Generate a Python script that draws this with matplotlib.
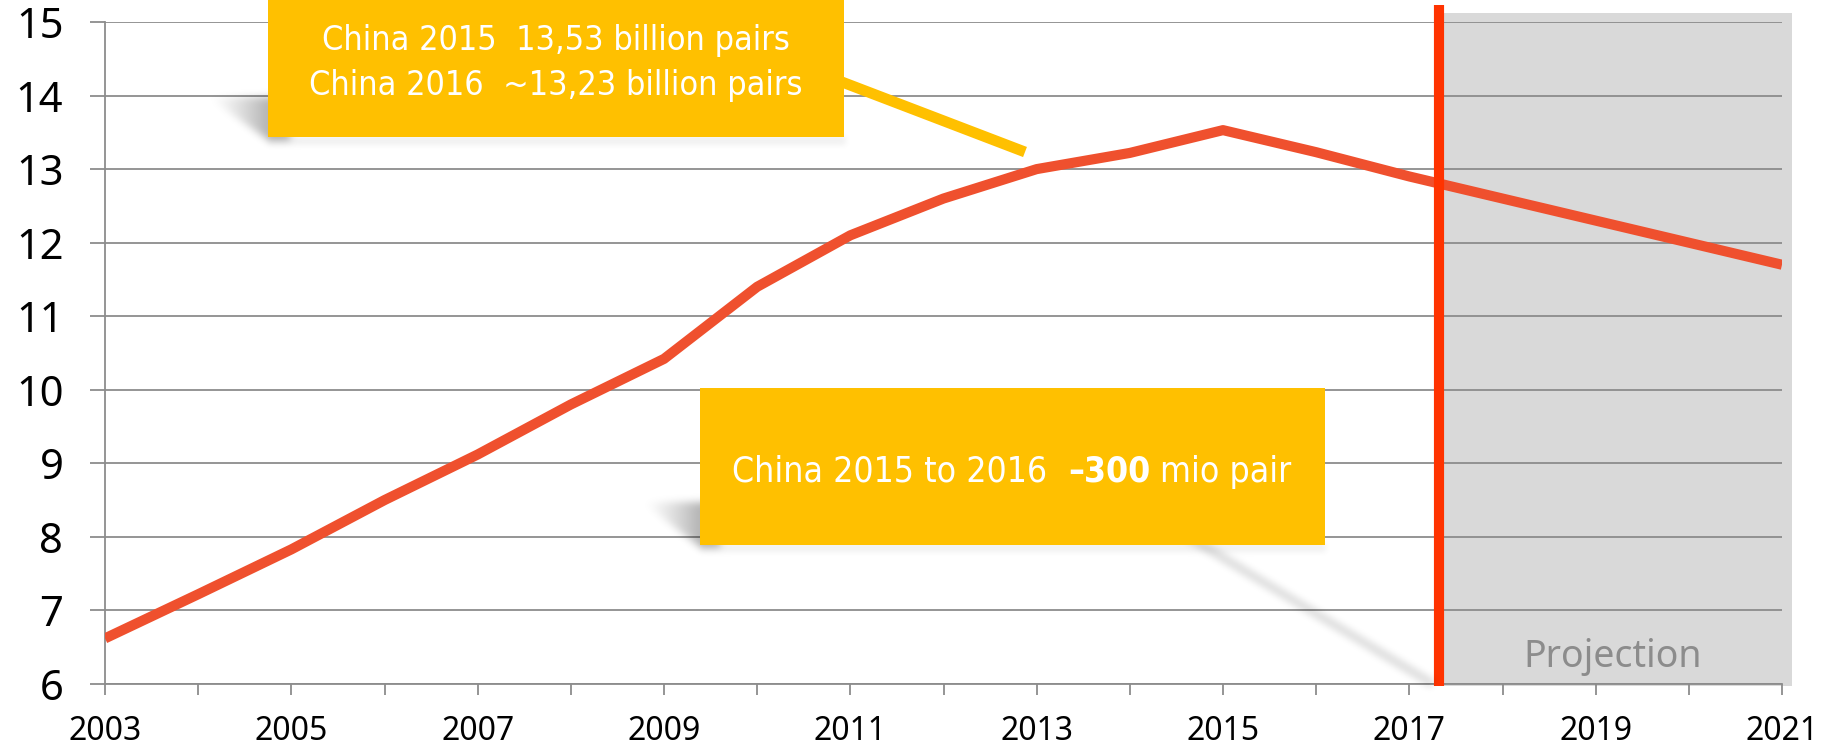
import numpy as np
import matplotlib
matplotlib.use("Agg")
import matplotlib.pyplot as plt
from matplotlib import font_manager
from matplotlib.patches import Rectangle
from matplotlib.lines import Line2D
from matplotlib.path import Path

# ---------------- data ----------------
years = list(range(2003, 2022))
pairs = [6.62, 7.22, 7.83, 8.50, 9.12, 9.80, 10.42, 11.40, 12.10, 12.60,
         13.00, 13.22, 13.53, 13.23, 12.90, 12.60, 12.30, 12.00, 11.70]
projection_start = 2017.32
y_ticks = list(range(6, 16))
x_label_years = list(range(2003, 2022, 2))
box1_lines = ["China 2015  13,53 billion pairs", "China 2016  ~13,23 billion pairs"]
box2_parts = ["China 2015 to 2016", "–300", "mio pair"]
projection_label = "Projection"

# ---------------- fonts ----------------
ttf = font_manager.fontManager.ttflist
names = {f.name for f in ttf}
if any(f.name == "DejaVu Sans" and "condensed" in str(f.stretch) for f in ttf):
    narrow_kw = dict(family="DejaVu Sans", stretch="condensed")
    nscale = 1.0
elif "Liberation Sans Narrow" in names:
    narrow_kw = dict(family="Liberation Sans Narrow")
    nscale = 1.12
else:
    narrow_kw = dict(family="Roboto")
    nscale = 0.85
tick_font = "Noto Sans" if "Noto Sans" in names else ("Open Sans" if "Open Sans" in names else "DejaVu Sans")

W, H = 1829, 746
fig = plt.figure(figsize=(W / 100, H / 100), dpi=100)
fig.patch.set_facecolor("white")

def fx(px):
    return px / W

def fy(py):
    return 1 - py / H

ax_left, ax_right, ax_top, ax_bot = 105, 1782, 22, 684
ax = fig.add_axes([fx(ax_left), fy(ax_bot), fx(ax_right - ax_left), (ax_bot - ax_top) / H])
ax.set_facecolor("none")
ax.set_xlim(2003, 2021)
ax.set_ylim(6, 15)

grid_c = "#8C8C8C"
ax.set_yticks(y_ticks)
ax.set_yticklabels([str(v) for v in y_ticks])
ax.set_xticks(years)
ax.set_xticklabels([str(y) if y in x_label_years else "" for y in years])
ax.yaxis.grid(True, color=grid_c, lw=1.3)
ax.set_axisbelow(True)
for s in ["top", "right"]:
    ax.spines[s].set_visible(False)
for s in ["left", "bottom"]:
    ax.spines[s].set_color(grid_c)
    ax.spines[s].set_linewidth(1.3)
ax.tick_params(axis="y", length=11, width=1.3, color=grid_c, pad=19, labelsize=30)
ax.tick_params(axis="x", length=8, width=1.3, color=grid_c, pad=14, labelsize=23)
for lab in ax.get_xticklabels() + ax.get_yticklabels():
    lab.set_fontfamily(tick_font)
    lab.set_fontweight("medium")

# projection shaded area (extends slightly beyond the plot)
px_per_year = (ax_right - ax_left) / 18.0
proj_px = ax_left + (projection_start - 2003) * px_per_year
fig.add_artist(Rectangle((fx(proj_px), fy(686)), fx(1792 - proj_px), (686 - 13) / H,
                         transform=fig.transFigure, facecolor="#D9D9D9",
                         edgecolor="none", zorder=-1))

# main line
ax.plot(years, pairs, color="#EF502E", lw=7.3, solid_joinstyle="round",
        solid_capstyle="butt", zorder=3)
# projection start marker
ax.plot([projection_start, projection_start], [5.97, 15.23], color="#FF3300",
        lw=7.3, solid_capstyle="butt", clip_on=False, zorder=4)

# ---------------- shadows ----------------
yy, xx = np.mgrid[0:H, 0:W]
pts = np.column_stack([xx.ravel() + 0.5, yy.ravel() + 0.5])

def poly_mask(verts):
    return Path(verts).contains_points(pts).reshape(H, W).astype(float)

def blur(a, s):
    r = int(3 * s)
    k = np.exp(-0.5 * (np.arange(-r, r + 1) / s) ** 2)
    k /= k.sum()
    out = np.zeros_like(a)
    p = np.pad(a, ((0, 0), (r, r)))
    for i, w in enumerate(k):
        out += w * p[:, i:i + a.shape[1]]
    p = np.pad(out, ((r, r), (0, 0)))
    out2 = np.zeros_like(a)
    for i, w in enumerate(k):
        out2 += w * p[i:i + a.shape[0], :]
    return out2

alpha = np.zeros((H, W))
# box 1 wedge
ramp1 = np.clip((xx - 208) / 60.0, 0, 1) ** 1.3
alpha += 0.30 * blur(poly_mask([(208, 97), (290, 97), (290, 140), (268, 140)]) * ramp1, 4)
alpha += 0.06 * blur(poly_mask([(268, 136), (846, 136), (846, 145), (268, 145)]), 3)
# box 2 wedge
ramp2 = np.clip((xx - 642) / 58.0, 0, 1) ** 1.3
alpha += 0.30 * blur(poly_mask([(642, 502), (720, 502), (720, 547), (700, 547)]) * ramp2, 4)
alpha += 0.06 * blur(poly_mask([(700, 543), (1326, 543), (1326, 552), (700, 552)]), 3)
# long diagonal streak
x0, y0, x1, y1 = 1185, 535, 1433, 684
d = np.array([x1 - x0, y1 - y0], float)
n = np.array([-d[1], d[0]]) / np.hypot(*d) * 4.5
streak = [(x0 + n[0], y0 + n[1]), (x1 + n[0], y1 + n[1]), (x1 - n[0], y1 - n[1]), (x0 - n[0], y0 - n[1])]
alpha += 0.13 * blur(poly_mask(streak), 3.5)
alpha = np.clip(alpha, 0, 1)
rgba = np.zeros((H, W, 4))
rgba[..., 3] = alpha
img = fig.figimage(rgba, xo=0, yo=0, origin="upper")
img.set_zorder(1)

# ---------------- callout boxes ----------------
yellow = "#FFC000"
fig.add_artist(Line2D([fx(842), fx(1025)], [fy(82), fy(152)], transform=fig.transFigure,
                      color=yellow, lw=7.8, solid_capstyle="butt", zorder=2))
fig.add_artist(Rectangle((fx(268), fy(137)), fx(844 - 268), 137 / H, transform=fig.transFigure,
                         facecolor=yellow, edgecolor="none", zorder=2))
fig.add_artist(Rectangle((fx(700), fy(545)), fx(1325 - 700), (545 - 388) / H,
                         transform=fig.transFigure, facecolor=yellow, edgecolor="none", zorder=2))

fs1 = 24.5 * nscale
for line, base in zip(box1_lines, [50, 95]):
    fig.text(fx(556), fy(base), line, ha="center", va="baseline", color="white",
             fontsize=fs1, zorder=3, **narrow_kw)

fs2 = 25.5 * nscale
renderer = fig.canvas.get_renderer()
weights = ["normal", "bold", "normal"]
texts = []
for part, wgt in zip(box2_parts, weights):
    t = fig.text(0, 0, part, ha="left", va="baseline", color="white", fontsize=fs2,
                 fontweight=wgt, zorder=3, **narrow_kw)
    texts.append(t)
widths = [t.get_window_extent(renderer).width for t in texts]
probe1 = fig.text(0, 0, "a  a", fontsize=fs2, **narrow_kw)
probe2 = fig.text(0, 0, "aa", fontsize=fs2, **narrow_kw)
sp = (probe1.get_window_extent(renderer).width - probe2.get_window_extent(renderer).width) / 2
probe1.remove()
probe2.remove()
gaps = [2 * sp, sp]
total = sum(widths) + sum(gaps)
xpos = 1012 - total / 2
for i, t in enumerate(texts):
    t.set_position((fx(xpos), fy(482)))
    xpos += widths[i] + (gaps[i] if i < len(gaps) else 0)

# projection label
fig.text(fx(1613), fy(667), projection_label, ha="center", va="baseline",
         color="#8C8C8C", fontsize=27, family=tick_font, zorder=3)

fig.savefig("out.png", dpi=100, facecolor="white")
